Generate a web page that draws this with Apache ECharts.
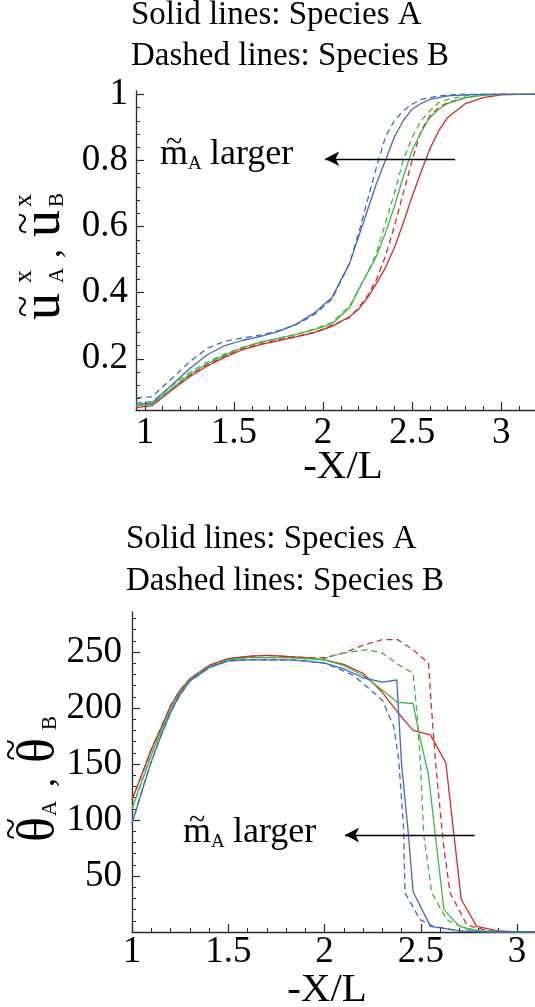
<!DOCTYPE html>
<html><head><meta charset="utf-8">
<script src="https://cdn.jsdelivr.net/npm/echarts@6/dist/echarts.min.js"></script>
<style>html,body{margin:0;padding:0;background:#fff}#c{width:535px;height:1007px}</style>
</head><body><div id="c"></div>
<script>
const FONT = '"Liberation Serif","Times New Roman",serif';
const RED = '#d42a2a', GREEN = '#3fb83f', BLUE = '#3b6bc4';

// ---------- top panel: velocity ----------
const uX = [0.95,1.04,1.15,1.25,1.35,1.45,1.55,1.65,1.75,1.85,1.95,2.05,2.15,2.2,2.25,2.3,2.35,2.4,2.45,2.5,2.55,2.6,2.65,2.7,2.8,2.9,3.0,3.1,3.2];
const uRedA   = [.052,.058,.105,.145,.178,.205,.228,.243,.255,.266,.279,.298,.328,.350,.385,.428,.475,.535,.61,.69,.765,.835,.89,.93,.972,.99,.998,1,1];
const uRedB   = [.058,.062,.108,.148,.182,.208,.23,.245,.257,.268,.28,.30,.325,.355,.39,.44,.51,.60,.70,.80,.89,.935,.96,.975,.99,.998,1,1,1];
const uGreenA = [.058,.062,.11,.152,.185,.212,.234,.25,.262,.274,.288,.305,.355,.41,.46,.51,.58,.66,.75,.83,.885,.93,.955,.972,.99,.997,1,1,1];
const uGreenB = [.068,.07,.118,.158,.19,.215,.235,.25,.262,.274,.29,.31,.36,.41,.46,.52,.61,.70,.80,.87,.92,.95,.975,.985,.995,1,1,1,1];
const uBlueA  = [.063,.066,.12,.17,.212,.24,.256,.268,.283,.305,.338,.385,.49,.57,.65,.73,.80,.87,.92,.955,.972,.985,.99,.995,.998,1,1,1,1];
const uBlueB  = [.082,.085,.14,.19,.232,.253,.263,.272,.285,.303,.333,.38,.49,.58,.68,.78,.87,.92,.95,.97,.985,.99,.995,.998,1,1,1,1,1];
const uXTicks = [1,1.5,2,2.5,3];
const uYTicks = [0.2,0.4,0.6,0.8,1];
const uArrow = [[2.742,0.805],[2.012,0.805]];

// ---------- bottom panel: temperature ----------
const tEarlyX = [1,1.05,1.1,1.15,1.2,1.25,1.3,1.4,1.5,1.6,1.7,1.8,1.9,2.0];
const tRedAx   = tEarlyX.concat([2.1,2.2,2.3,2.38,2.46,2.55,2.63,2.71,2.79,2.9,3.0,3.1]);
const tRedAy   = [118,140,163,182,202,216,226,238,244,246,247,246,245,243, 239,231,214,196,180,176,151,29,5,1,0,0];
const tRedBx   = tEarlyX.concat([2.1,2.2,2.3,2.38,2.46,2.54,2.557,2.58,2.617,2.652,2.74,2.85,3.0,3.1]);
const tRedBy   = [118,140,163,182,202,216,226,238,244,246,247,246,245,245, 249,256,261,261,252,240,196,145,79,35,6,1,0,0];
const tGreenAx = tEarlyX.concat([2.1,2.2,2.3,2.38,2.46,2.487,2.54,2.575,2.62,2.70,2.8,3.0,3.1]);
const tGreenAy = [110,134,158,179,199,214,225,237,243,245,245,245,244,243, 238,229,216,205,204,180,140,87,20,5,1,0,0];
const tGreenBx = tEarlyX.concat([2.05,2.13,2.22,2.3,2.39,2.46,2.48,2.5,2.515,2.557,2.635,2.73,2.85,3.1]);
const tGreenBy = [110,134,158,179,199,214,225,237,243,245,245,245,244,244, 247,250,252,249,238,231,195,145,87,35,11,3,0,0];
const tBlueAx  = tEarlyX.concat([2.1,2.2,2.3,2.375,2.40,2.435,2.46,2.55,2.7,2.85,3.1]);
const tBlueAy  = [97,125,152,175,196,212,224,236,242,243,243,243,242,240, 235,227,223,225,150,88,36,5,1,0,0];
const tBlueBx  = tEarlyX.concat([2.1,2.15,2.22,2.3,2.36,2.385,2.41,2.418,2.496,2.565,2.7,2.85,3.1]);
const tBlueBy  = [97,125,152,175,196,212,224,236,242,243,243,243,242,240, 233,229,219,207,183,154,94,35,11,5,1,0,0];
const tXTicks = [1,1.5,2,2.5,3];
const tYTicks = [50,100,150,200,250];
const tArrow = [[2.78,86.6],[2.106,86.6]];

// minor ticks
function minors(from, to, step, majors) {
  const out = [];
  for (let v = from; v <= to + 1e-9; v += step) {
    const r = Math.round(v * 1000) / 1000;
    if (!majors.some(m => Math.abs(m - r) < 1e-6)) out.push(r);
  }
  return out;
}
const uXMinor = minors(1, 3.1, 0.1, uXTicks);
const uYMinor = minors(0.08, 0.96, 0.04, uYTicks);
const tXMinor = minors(1, 3.0, 0.1, tXTicks);
const tYMinor = minors(10, 280, 10, tYTicks);

const AX = '#2a2a2a';
function majorAxis(grid, min, max, ticks, margin, pos) {
  return {
    type: 'value', gridIndex: grid, min, max, position: pos,
    axisLine: { show: true, onZero: false, lineStyle: { color: AX, width: 1.3 } },
    axisTick: { show: true, inside: true, length: 8, customValues: ticks, lineStyle: { color: AX, width: 1.2 } },
    axisLabel: { show: true, customValues: ticks, fontFamily: FONT, fontSize: 37, color: '#000', margin },
    splitLine: { show: false }
  };
}
function minorAxis(grid, min, max, ticks, pos) {
  return {
    type: 'value', gridIndex: grid, min, max, position: pos,
    axisLine: { show: false, onZero: false },
    axisTick: { show: true, inside: true, length: 4, customValues: ticks, lineStyle: { color: AX, width: 1 } },
    axisLabel: { show: false },
    splitLine: { show: false }
  };
}

const series = [];
function add(xIdx, yIdx, xs, ys, color, dashed, arrow) {
  const s = {
    type: 'line', xAxisIndex: xIdx, yAxisIndex: yIdx,
    data: xs.map((x, i) => [x, ys[i]]),
    symbol: 'none', showSymbol: false, silent: true, animation: false,
    lineStyle: { color, width: 1.3, type: dashed ? [6, 4] : 'solid' }
  };
  if (arrow) {
    s.markLine = {
      silent: true, animation: false,
      symbol: ['none', 'arrow'], symbolSize: [11, 14],
      label: { show: false },
      lineStyle: { color: '#000', width: 1.3, type: 'solid' },
      data: [[{ coord: arrow[0] }, { coord: arrow[1] }]]
    };
  }
  series.push(s);
}
add(0, 0, uX, uRedA, RED, false, uArrow);
add(0, 0, uX, uRedB, RED, true);
add(0, 0, uX, uGreenA, GREEN, false);
add(0, 0, uX, uGreenB, GREEN, true);
add(0, 0, uX, uBlueA, BLUE, false);
add(0, 0, uX, uBlueB, BLUE, true);
add(2, 2, tRedAx, tRedAy, RED, false, tArrow);
add(2, 2, tRedBx, tRedBy, RED, true);
add(2, 2, tGreenAx, tGreenAy, GREEN, false);
add(2, 2, tGreenBx, tGreenBy, GREEN, true);
add(2, 2, tBlueAx, tBlueAy, BLUE, false);
add(2, 2, tBlueBx, tBlueBy, BLUE, true);

// text helpers
function t(x, y, s, size, align) {
  return { type: 'text', x, y, silent: true,
    style: { text: s, font: size + 'px ' + FONT, fill: '#000',
      textAlign: align || 'left', textVerticalAlign: 'middle', align: align || 'left', verticalAlign: 'middle' } };
}
// rotated y-axis titles (local x = reading direction, local y = 0 at baseline)
function mid(base, size) { return base - 0.3375 * size; }
const uTitle = { type: 'group', x: 63, y: 320, rotation: Math.PI / 2, children: [
  t(0, mid(0, 54), 'u', 54), t(13.5, -38, '~', 40, 'center'),
  t(37, mid(-30, 26), 'x', 26), t(37, mid(2, 21), 'A', 21),
  t(62, mid(0, 36), ',', 36),
  t(83, mid(0, 54), 'u', 54), t(96.5, -38, '~', 40, 'center'),
  t(113, mid(-30, 26), 'x', 26), t(113, mid(2, 21), 'B', 21)
]};
const tTitle = { type: 'group', x: 57, y: 842, rotation: Math.PI / 2, children: [
  t(0, mid(0, 52), 'θ', 52), t(13, -44, '~', 40, 'center'),
  t(26, mid(1, 21), 'A', 21),
  t(55, mid(0, 36), ',', 36),
  t(79, mid(0, 52), 'θ', 52), t(92, -44, '~', 40, 'center'),
  t(112, mid(1, 21), 'B', 21)
]};
function note(x, base) {
  return [
    t(x, mid(base, 36), 'm', 36),
    t(x + 14, base - 24, '~', 30, 'center'),
    t(x + 28, mid(base + 3, 19), 'A', 19),
    t(x + 50, mid(base, 36), 'larger', 36)
  ];
}

const option = {
  animation: false,
  backgroundColor: '#fff',
  grid: [
    { left: 136, top: 91, width: 399, height: 319 },
    { left: 132, top: 612, width: 403, height: 320 }
  ],
  xAxis: [
    majorAxis(0, 0.95, 3.19, uXTicks, 5, 'bottom'),
    minorAxis(0, 0.95, 3.19, uXMinor, 'bottom'),
    majorAxis(1, 1, 3.093, tXTicks, 2, 'bottom'),
    minorAxis(1, 1, 3.093, tXMinor, 'bottom')
  ],
  yAxis: [
    majorAxis(0, 0.045, 1.01, uYTicks, 8, 'left'),
    minorAxis(0, 0.045, 1.01, uYMinor, 'left'),
    majorAxis(1, 0, 285.7, tYTicks, 10, 'left'),
    minorAxis(1, 0, 285.7, tYMinor, 'left')
  ],
  series,
  graphic: [
    t(131, 15, 'Solid lines: Species A', 33),
    t(131, 56, 'Dashed lines: Species B', 33),
    t(126, 539, 'Solid lines: Species A', 33),
    t(126, 581, 'Dashed lines: Species B', 33),
    t(343, 467, '-X/L', 41, 'center'),
    t(327, 990, '-X/L', 41, 'center'),
    uTitle, tTitle
  ].concat(note(160, 167), note(183, 845))
};
const chart = echarts.init(document.getElementById('c'), null, { renderer: 'canvas' });
chart.setOption(option);
</script>
</body></html>
